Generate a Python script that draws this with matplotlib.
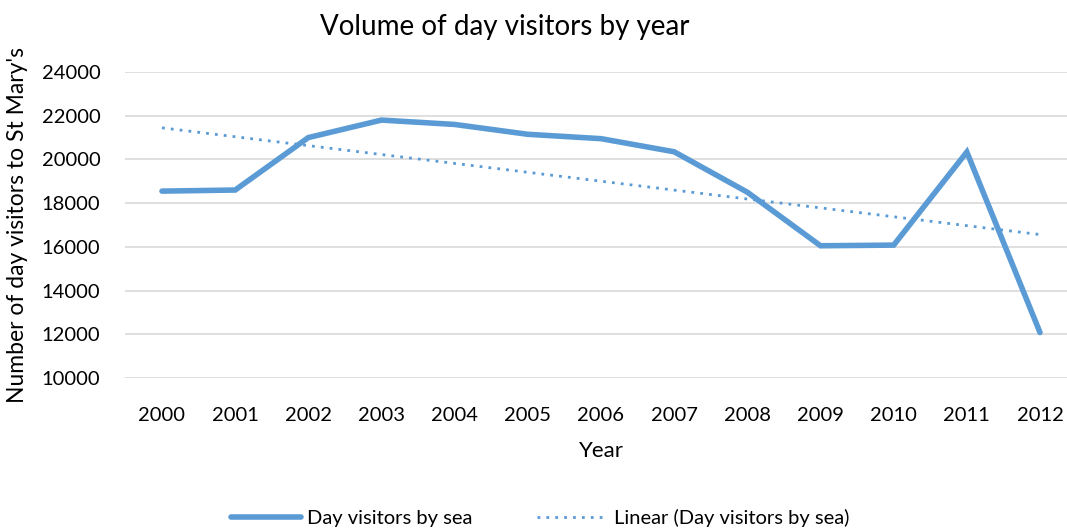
import numpy as np
import matplotlib
matplotlib.use("Agg")
import matplotlib.pyplot as plt

# Data
years = ["2000", "2001", "2002", "2003", "2004", "2005", "2006",
         "2007", "2008", "2009", "2010", "2011", "2012"]
visitors = [18550, 18600, 21000, 21800, 21600, 21150, 20950,
            20350, 18500, 16050, 16080, 20340, 12080]
y_ticks = [10000, 12000, 14000, 16000, 18000, 20000, 22000, 24000]

blue = "#5B9BD5"
plt.rcParams["font.family"] = ["Lato", "DejaVu Sans"]

fig = plt.figure(figsize=(10.67, 5.29), dpi=100)
W, H = 1067, 529
# plot area in pixels (left, top, right, bottom)
left, top, right, bottom = 125.4, 72, 1076.6, 378
ax = fig.add_axes([left / W, 1 - bottom / H, (right - left) / W, (bottom - top) / H])

x = np.arange(len(years))
# linear trendline fitted to the series (like Excel's "Linear" trendline)
slope, intercept = np.polyfit(x, visitors, 1)
trend = slope * x + intercept

ax.plot(x, visitors, color=blue, lw=4, solid_capstyle="round", solid_joinstyle="miter",
        label="Day visitors by sea", zorder=3)
ax.plot(x, trend, color=blue, lw=2, linestyle=(0, (1, 2.2)), label="Linear (Day visitors by sea)", zorder=2)

ax.set_xlim(-0.5, len(years) - 0.5)
ax.set_ylim(10000, 24000)
ax.set_xticks(x)
ax.set_xticklabels(years)
ax.set_yticks(y_ticks)
ax.grid(axis="y", color="#D9D9D9", lw=1.2)
ax.set_axisbelow(True)
for s in ax.spines.values():
    s.set_visible(False)
ax.tick_params(length=0, labelsize=14.5, colors="black")
ax.tick_params(axis="x", pad=21)
ax.tick_params(axis="y", pad=18)

ax.set_xlabel("Year", fontsize=16, labelpad=12)
ax.set_ylabel("Number of day visitors to St Mary's", fontsize=16.5, labelpad=10)
fig.text(505 / W, 1 - 27 / H, "Volume of day visitors by year", fontsize=20, ha="center", va="center")

fig.legend(loc="center", bbox_to_anchor=(540 / W, 1 - 518 / H), ncol=2, frameon=False,
           fontsize=14.5, handlelength=3.5, columnspacing=3.2, handletextpad=0.3)

fig.savefig("out.png", dpi=100)
